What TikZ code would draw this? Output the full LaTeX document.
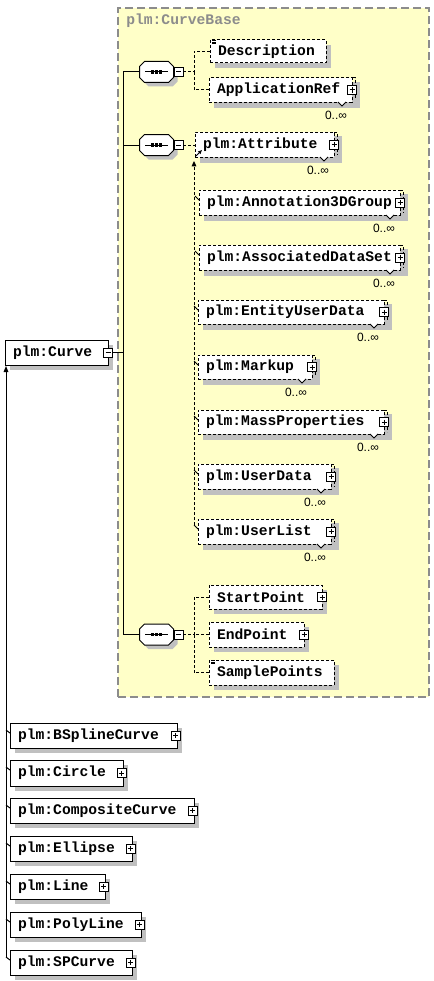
\documentclass[tikz,border=0pt]{standalone}
\usepackage{fontspec}
\usetikzlibrary{calc,arrows.meta}
\newfontfamily\elfont{Liberation Mono}
\newfontfamily\mfont{Liberation Sans}
\definecolor{ybg}{RGB}{255,255,200}
\definecolor{shgray}{RGB}{192,192,192}
\definecolor{bgray}{RGB}{140,140,140}
\tikzset{
  lw/.style={line width=0.75pt},
  dl/.style={line width=0.75pt, dash pattern=on 2.25pt off 1.5pt},
  elbox/.style={draw, fill=white, line width=0.75pt, anchor=north west, inner sep=0pt, inner xsep=6pt, outer sep=0pt, font=\elfont\bfseries\fontsize{11}{13}\selectfont},
  dbox/.style={elbox, dash pattern=on 2.25pt off 1.5pt},
  mult/.style={inner sep=0pt, font=\mfont\fontsize{9}{10}\selectfont},
  plusb/.style={draw, fill=white, line width=0.75pt, minimum size=6.75pt, inner sep=0pt, outer sep=0pt, rectangle,
    path picture={\draw[line width=0.75pt] ($(path picture bounding box.west)+(1.5pt,0pt)$) -- ($(path picture bounding box.east)+(-1.5pt,0pt)$)
      ($(path picture bounding box.north)+(0pt,-1.5pt)$) -- ($(path picture bounding box.south)+(0pt,1.5pt)$);}},
  minusb/.style={draw, fill=white, line width=0.75pt, minimum size=6.75pt, inner sep=0pt, outer sep=0pt, rectangle,
    path picture={\draw[line width=0.75pt] ($(path picture bounding box.west)+(1.5pt,0pt)$) -- ($(path picture bounding box.east)+(-1.5pt,0pt)$);}},
  seq/.pic={
    \fill[shgray, shift={(4,4)}] (-17,-5.5) -- (-12,-10.5) -- (12,-10.5) -- (17,-5.5) -- (17,5.5) -- (12,10.5) -- (-12,10.5) -- (-17,5.5) -- cycle;
    \draw[fill=white, line width=0.75pt] (-17,-5.5) -- (-12,-10.5) -- (12,-10.5) -- (17,-5.5) -- (17,5.5) -- (12,10.5) -- (-12,10.5) -- (-17,5.5) -- cycle;
    \draw[line width=0.75pt] (-11.5,0) -- (11.5,0);
    \fill (-5.5,-1.8) rectangle (-2.5,1.8);
    \fill (-1.5,-1.8) rectangle (1.5,1.8);
    \fill (2.5,-1.8) rectangle (5.5,1.8);
    \node[inner sep=0pt, outer sep=0pt, minimum width=25.5pt, minimum height=15.75pt] (-c) at (0,0) {};
    \node[minusb] (-m) at (22,0) {};
  }
}
% solid element: name, x, y, W, H, text
\newcommand\elS[6]{%
  \fill[shgray] ({#2+5},{#3+5}) rectangle ({#2+#4+5},{#3+#5+5});
  \pgfmathsetlengthmacro\tw{(#4-16)*0.75pt}
  \node[elbox, minimum width=#4*0.75pt, minimum height=#5*0.75pt] (#1) at (#2,#3) {\makebox[\tw][l]{#6}};
}
% dashed single element
\newcommand\elD[6]{%
  \fill[shgray] ({#2+5},{#3+5}) rectangle ({#2+#4+5},{#3+#5+5});
  \pgfmathsetlengthmacro\tw{(#4-16)*0.75pt}
  \node[dbox, minimum width=#4*0.75pt, minimum height=#5*0.75pt] (#1) at (#2,#3) {\makebox[\tw][l]{#6}};
}
% dashed multiple element (0..inf) with plus
\newcommand\elM[6]{%
  \fill[shgray] ({#2+5},{#3+4}) rectangle ({#2+#4+8},{#3+#5+6});
  \pgfmathsetlengthmacro\tw{(#4-16)*0.75pt}
  \node[dbox, minimum width=#4*0.75pt, minimum height=#5*0.75pt] (#1) at (#2,#3) {\makebox[\tw][l]{#6}};
  \draw[dl] (#1.north east) -- ++(3,0) -- ++(0,{#5-2});
  \draw[lw, fill=white] ($(#1.south east)+(-14,0)$) -- ++(4,4) -- ++(4,-4);
  \node[mult] (#1-n) at ($(#1.south east)+(-16,13)$) {0..∞};
  \node[plusb] (#1-p) at (#1.east) {};
}
\begin{document}
\begin{tikzpicture}[x=0.75pt,y=-0.75pt]
\useasboundingbox (0,0) rectangle (434,981);
% group frame
\node[draw=bgray, fill=ybg, line width=1.5pt, dash pattern=on 6pt off 3pt, anchor=north west, inner sep=0pt, outer sep=0pt,
  minimum width=311*0.75pt, minimum height=689*0.75pt] (base) at (118,8) {};
\node[anchor=west, inner sep=0pt, text=bgray, font=\elfont\bfseries\fontsize{11}{13}\selectfont] (basel) at (126,21) {plm:CurveBase};

% compositors
\pic (s1) at (156.5,72) {seq};
\pic (s2) at (156.5,145) {seq};
\pic (s3) at (156.5,634.5) {seq};

% first sequence
\elD{desc}{210}{40}{116}{23}{Description}
\draw[line width=0.5pt] ($(desc.north west)+(2,0.5)$) -- ++(4,0) ($(desc.north west)+(2,2)$) -- ++(4,0) ($(desc.north west)+(2,3.5)$) -- ++(4,0);
\elM{appref}{209}{78}{143}{24}{ApplicationRef}
\coordinate (j1) at (194,72);
\draw[dl] (s1-m.east) -- (j1);
\draw[dl] (desc.west) -| (j1);
\draw[dl] (appref.west) -| (j1);

% second sequence: substitution group
\elM{attr}{195}{132}{139}{25}{plm:Attribute}
\elM{ann}{199}{190}{201}{25}{plm:Annotation3DGroup}
\elM{assoc}{199}{245}{201}{25}{plm:AssociatedDataSet}
\elM{ent}{198}{300}{186}{24}{plm:EntityUserData}
\elM{markup}{198}{355}{114}{24}{plm:Markup}
\elM{mass}{198}{410}{186}{24}{plm:MassProperties}
\elM{udata}{198}{464}{133}{25}{plm:UserData}
\elM{ulist}{198}{519}{133}{25}{plm:UserList}
\draw[dl] (s2-m.east) -- (s2-m.east -| attr.west);
\draw[dl, -{Triangle[length=4pt,width=3.5pt]}] ($(ulist.north west)+(-4,6)$) -- ($(attr.south west)+(-1,4)$);
\draw[lw, -{Triangle[length=3pt,width=2.5pt]}] ($(attr.south west)+(1,-1)$) -- ($(attr.south west)+(7,-7)$);
\foreach \m in {ann,assoc,ent,markup,mass,udata,ulist}
  \draw[lw] ($(\m.north west)+(-4,6)$) -- ($(\m.north west)+(0,10)$);

% third sequence
\elD{start}{209}{585}{113}{24}{StartPoint}
\node[plusb] (start-p) at (start.east) {};
\elD{endp}{209}{622}{95}{25}{EndPoint}
\node[plusb] (endp-p) at (endp.east) {};
\elD{sample}{209}{660}{125}{25}{SamplePoints}
\draw[line width=0.5pt] ($(sample.north west)+(2,0.5)$) -- ++(4,0) ($(sample.north west)+(2,2)$) -- ++(4,0) ($(sample.north west)+(2,3.5)$) -- ++(4,0);
\coordinate (j3) at (194,634.5);
\draw[dl] (s3-m.east) -- (j3);
\draw[dl] (start.west) -| (j3);
\draw[dl] (endp.west) -- (j3);
\draw[dl] (sample.west) -| (j3);

% main element
\elS{curve}{5}{340}{103}{25}{plm:Curve}
\node[minusb] (curve-m) at (curve.east) {};
\coordinate (bus) at (123,352.5);
\draw[lw] (curve-m.east) -- (bus);
\draw[lw] (s1-c.west) -| (bus);
\draw[lw] (s2-c.west) -| (bus);
\draw[lw] (s3-c.west) -| (bus);

% substitution members of plm:Curve
\elS{bspl}{10}{723}{167}{25}{plm:BSplineCurve}
\elS{circ}{10}{760}{113}{26}{plm:Circle}
\elS{comp}{10}{798}{184}{25}{plm:CompositeCurve}
\elS{ell}{10}{836}{122}{25}{plm:Ellipse}
\elS{linebox}{10}{874}{95}{25}{plm:Line}
\elS{poly}{10}{912}{131}{25}{plm:PolyLine}
\elS{spc}{10}{950}{122}{25}{plm:SPCurve}
\foreach \m in {bspl,circ,comp,ell,linebox,poly,spc} {
  \node[plusb] (\m-p) at ($(\m.east)+(-1.5,0)$) {};
  \draw[lw] ($(\m.north west)+(-4,7)$) -- ($(\m.north west)+(0,10)$);
}
\draw[lw, -{Triangle[length=4.5pt,width=3.5pt]}] ($(spc.north west)+(-4,7)$) -- ($(curve.south west)+(1,1)$);
\end{tikzpicture}
\end{document}
